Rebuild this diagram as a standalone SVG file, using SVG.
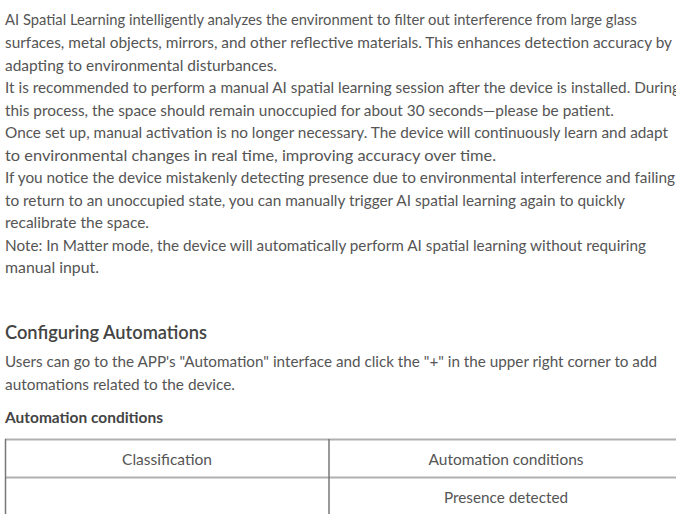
<svg xmlns="http://www.w3.org/2000/svg" width="676" height="514" viewBox="0 0 676 514">
<style>
text{font-family:"Lato","Noto Sans","Liberation Sans",sans-serif;fill:#555;font-size:15px}
.h{font-size:19px;font-weight:600;fill:#444}
.b{font-weight:700;fill:#444}
.c{text-anchor:middle}
.hl{stroke:#b0b0b0;stroke-width:2}
.vl{stroke:#777;stroke-width:1.5}
</style>
<rect width="676" height="514" fill="#fff"/>
<g id="body">
<text x="5" y="25" textLength="632" lengthAdjust="spacingAndGlyphs">AI Spatial Learning intelligently analyzes the environment to filter out interference from large glass</text>
<text x="5" y="48" textLength="667" lengthAdjust="spacingAndGlyphs">surfaces, metal objects, mirrors, and other reflective materials. This enhances detection accuracy by</text>
<text x="5" y="70.5" textLength="272" lengthAdjust="spacingAndGlyphs">adapting to environmental disturbances.</text>
<text x="5" y="93" textLength="675" lengthAdjust="spacingAndGlyphs">It is recommended to perform a manual AI spatial learning session after the device is installed. During</text>
<text x="5" y="115.5" textLength="609" lengthAdjust="spacingAndGlyphs">this process, the space should remain unoccupied for about 30 seconds—please be patient.</text>
<text x="5" y="138" textLength="663" lengthAdjust="spacingAndGlyphs">Once set up, manual activation is no longer necessary. The device will continuously learn and adapt</text>
<text x="5" y="160.5" textLength="491" lengthAdjust="spacingAndGlyphs">to environmental changes in real time, improving accuracy over time.</text>
<text x="5" y="183" textLength="670" lengthAdjust="spacingAndGlyphs">If you notice the device mistakenly detecting presence due to environmental interference and failing</text>
<text x="5" y="205.5" textLength="620" lengthAdjust="spacingAndGlyphs">to return to an unoccupied state, you can manually trigger AI spatial learning again to quickly</text>
<text x="5" y="228" textLength="144" lengthAdjust="spacingAndGlyphs">recalibrate the space.</text>
<text x="5" y="250.5" textLength="641" lengthAdjust="spacingAndGlyphs">Note: In Matter mode, the device will automatically perform AI spatial learning without requiring</text>
<text x="5" y="273" textLength="94" lengthAdjust="spacingAndGlyphs">manual input.</text>
</g>
<g id="section">
<text class="h" x="5" y="339" textLength="202" lengthAdjust="spacingAndGlyphs">Configuring Automations</text>
<text x="5" y="367" textLength="652" lengthAdjust="spacingAndGlyphs">Users can go to the APP's "Automation" interface and click the "+" in the upper right corner to add</text>
<text x="5" y="389.5" textLength="230" lengthAdjust="spacingAndGlyphs">automations related to the device.</text>
<text class="b" x="5" y="423" textLength="158" lengthAdjust="spacingAndGlyphs">Automation conditions</text>
</g>
<g id="table">
<line class="hl" x1="5" y1="439.5" x2="676" y2="439.5"/>
<line class="hl" x1="5" y1="477.5" x2="676" y2="477.5"/>
<line class="vl" x1="5.5" y1="439" x2="5.5" y2="514"/>
<line class="vl" x1="329" y1="439" x2="329" y2="514"/>
<text class="c" x="167" y="464.5" textLength="90" lengthAdjust="spacingAndGlyphs">Classification</text>
<text class="c" x="506" y="464.5" textLength="155" lengthAdjust="spacingAndGlyphs">Automation conditions</text>
<text class="c" x="506" y="502.5" textLength="124" lengthAdjust="spacingAndGlyphs">Presence detected</text>
</g>
</svg>
